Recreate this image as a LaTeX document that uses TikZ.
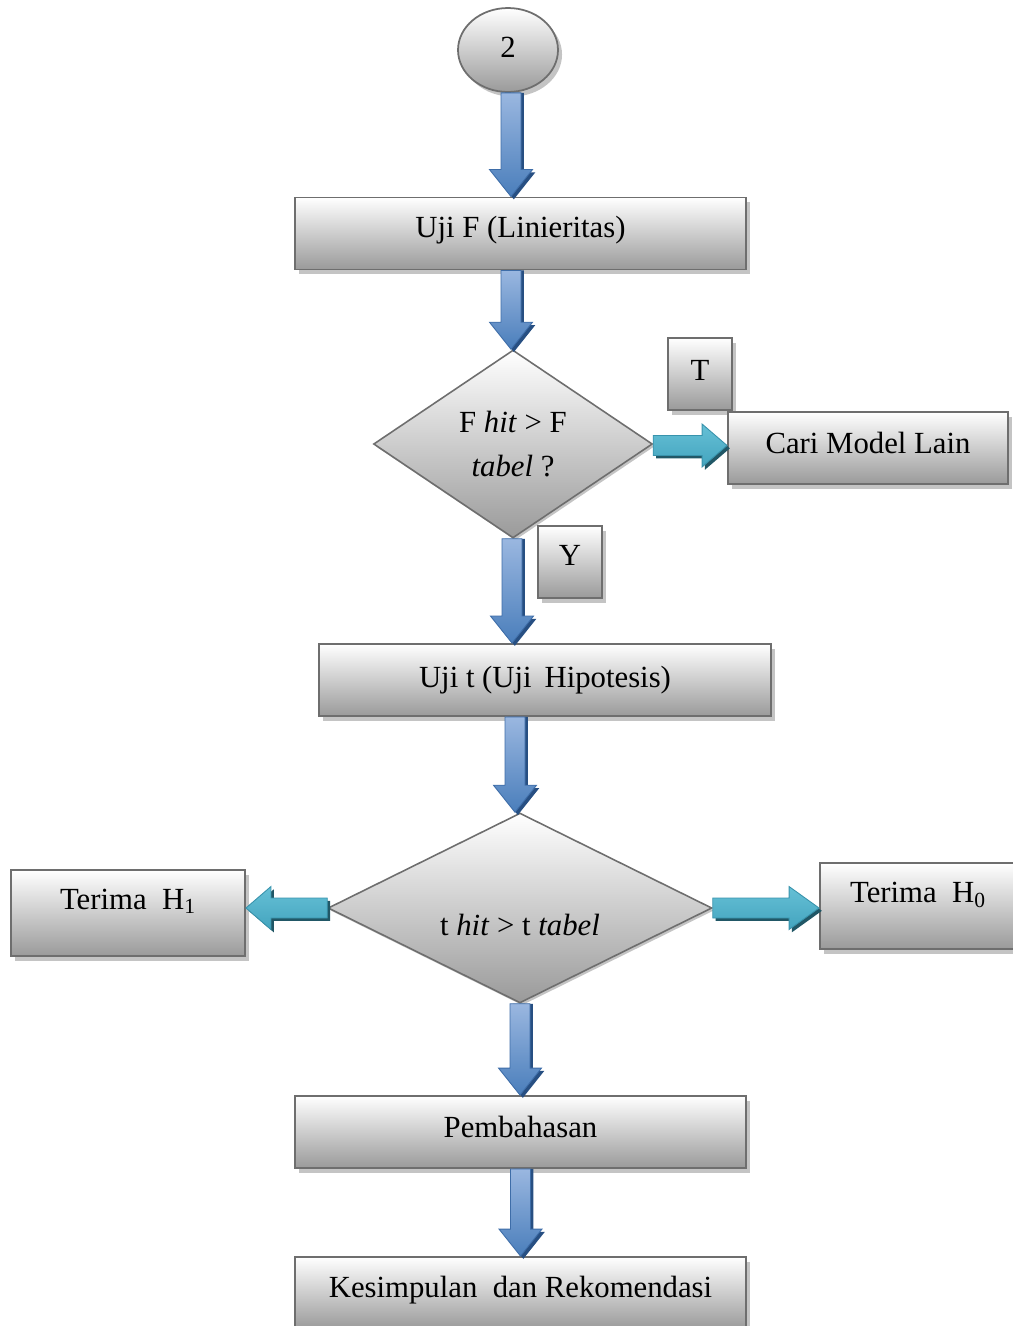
\documentclass[tikz,border=0pt]{standalone}
\usepackage{fontspec}
\setmainfont{Liberation Serif}
\usetikzlibrary{shapes.geometric,shadows,calc}
\definecolor{boxline}{HTML}{6E6E6E}
\definecolor{boxbot}{HTML}{9A9A9A}
\definecolor{shadowc}{HTML}{C4C4C4}
\definecolor{bluetop}{HTML}{9AB7E0}
\definecolor{bluebot}{HTML}{4A7EBB}
\definecolor{blueline}{HTML}{3E6DA8}
\definecolor{blueshad}{HTML}{274F82}
\definecolor{cyantop}{HTML}{66C0D6}
\definecolor{cyanbot}{HTML}{43A4BE}
\definecolor{cyanline}{HTML}{3893AC}
\definecolor{cyanshad}{HTML}{215766}
\newdimen\arsw \arsw=0.2cm
\newdimen\arhw \arhw=0.43cm
\newdimen\arhl \arhl=0.54cm
\newdimen\arso \arso=1.6pt
% vertical (downward) fat arrow
\newcommand\varrow[2]{%
  \fill[blueshad] let \p1=(#1), \p2=(#2) in
    (\x1-\arsw+\arso,\y1) -- (\x1+\arsw+\arso,\y1) -- (\x1+\arsw+\arso,\y2+\arhl-\arso)
    -- (\x1+\arhw+\arso,\y2+\arhl-\arso) -- (\x1+\arso,\y2-\arso)
    -- (\x1-\arhw+\arso,\y2+\arhl-\arso) -- (\x1-\arsw+\arso,\y2+\arhl-\arso) -- cycle;
  \shadedraw[top color=bluetop, bottom color=bluebot, draw=blueline, line width=0.5pt]
    let \p1=(#1), \p2=(#2) in
    (\x1-\arsw,\y1) -- (\x1+\arsw,\y1) -- (\x1+\arsw,\y2+\arhl)
    -- (\x1+\arhw,\y2+\arhl) -- (\x1,\y2) -- (\x1-\arhw,\y2+\arhl)
    -- (\x1-\arsw,\y2+\arhl) -- cycle;
}
% horizontal fat arrow, #3 = signed head length (negative for rightward)
\newcommand\harrow[3]{%
  \fill[cyanshad] let \p1=(#1), \p2=(#2) in
    ({\x1+\arso},{\y1+\arsw-\arso}) -- ({\x2+(#3)+\arso},{\y1+\arsw-\arso})
    -- ({\x2+(#3)+\arso},{\y1+\arhw-\arso}) -- ({\x2+\arso},{\y1-\arso})
    -- ({\x2+(#3)+\arso},{\y1-\arhw-\arso}) -- ({\x2+(#3)+\arso},{\y1-\arsw-\arso})
    -- ({\x1+\arso},{\y1-\arsw-\arso}) -- cycle;
  \shadedraw[top color=cyantop, bottom color=cyanbot, draw=cyanline, line width=0.5pt]
    let \p1=(#1), \p2=(#2) in
    (\x1,\y1+\arsw) -- ({\x2+(#3)},\y1+\arsw) -- ({\x2+(#3)},\y1+\arhw)
    -- (\x2,\y1) -- ({\x2+(#3)},\y1-\arhw) -- ({\x2+(#3)},\y1-\arsw)
    -- (\x1,\y1-\arsw) -- cycle;
}
% text with its baseline at the node centre, raised by #1
\newcommand\upt[2]{\raisebox{#1}[0pt][0pt]{#2}}
\begin{document}
\begin{tikzpicture}[x=0.02cm,y=-0.02cm,
  every node/.style={font=\fontsize{17.5}{21}\selectfont, inner sep=0pt},
  gshadow/.style={drop shadow={shadow xshift=2.3pt, shadow yshift=-2.6pt, fill=shadowc, opacity=1}},
  gbox/.style={rectangle, draw=boxline, line width=1.1pt, top color=white, bottom color=boxbot,
    minimum width=#1, minimum height=1.44cm, gshadow},
  gbox/.default=9.02cm,
  dia/.style={diamond, draw=boxline, line width=0.9pt, top color=white, bottom color=boxbot,
    drop shadow={shadow xshift=1.2pt, shadow yshift=-1.4pt, fill=shadowc, opacity=1}},
  circ/.style={ellipse, draw=boxline, line width=1pt, top color=white, bottom color=boxbot,
    minimum width=2cm, minimum height=1.68cm, gshadow}
]
\useasboundingbox (0,0) rectangle (1013,1326);

\node[circ] (c2) at (508,50) {\upt{-0.15cm}{2}};
\node[gbox] (b1) at (520.5,233.5) {\upt{-0.07cm}{Uji F (Linieritas)}};
\node[dia, minimum width=5.58cm, minimum height=3.76cm, align=center] (d1) at (513,444)
  {F \textit{hit} > F\\[4pt]\textit{tabel} ?};
\node[gbox=1.28cm] (tT) at (700,374) {\upt{-0.12cm}{T}};
\node[gbox=5.6cm] (cari) at (868,448) {\upt{-0.1cm}{Cari Model Lain}};
\node[gbox=1.28cm] (tY) at (570,562) {\upt{-0.06cm}{Y}};
\node[gbox=9.04cm] (b2) at (545,680) {\upt{-0.14cm}{Uji t (Uji\ \,Hipotesis)}};
\node[dia, minimum width=7.68cm, minimum height=3.8cm] (d2) at (520,908)
  {\upt{-0.54cm}{t \textit{hit} > t \textit{tabel}}};
\node[gbox=4.68cm, minimum height=1.72cm] (h1) at (128,913) {\upt{0.08cm}{Terima\ \ H\textsubscript{1}}};
\node[gbox=3.92cm, minimum height=1.72cm] (h0) at (918,906) {\upt{0.07cm}{Terima\ \ H\textsubscript{0}}};
\node[gbox] (pb) at (520.5,1132) {\upt{-0.1cm}{Pembahasan}};
\node[gbox] (ks) at (520.5,1293) {\upt{-0.08cm}{Kesimpulan\ \ dan Rekomendasi}};

\varrow{[xshift=0.06cm]c2.south}{b1.north}
\varrow{[xshift=-0.19cm]b1.south}{d1.north}
\varrow{[xshift=-0.02cm]d1.south}{b2.north}
\varrow{[xshift=-0.1cm]b2.south-|d2.north}{d2.north}
\varrow{d2.south}{pb.north}
\varrow{pb.south}{ks.north}
\harrow{[yshift=-0.03cm]d1.east}{cari.west}{-0.5cm}
\harrow{d2.west}{h1.east}{0.5cm}
\harrow{d2.east}{h0.west}{-0.6cm}
\end{tikzpicture}
\end{document}
